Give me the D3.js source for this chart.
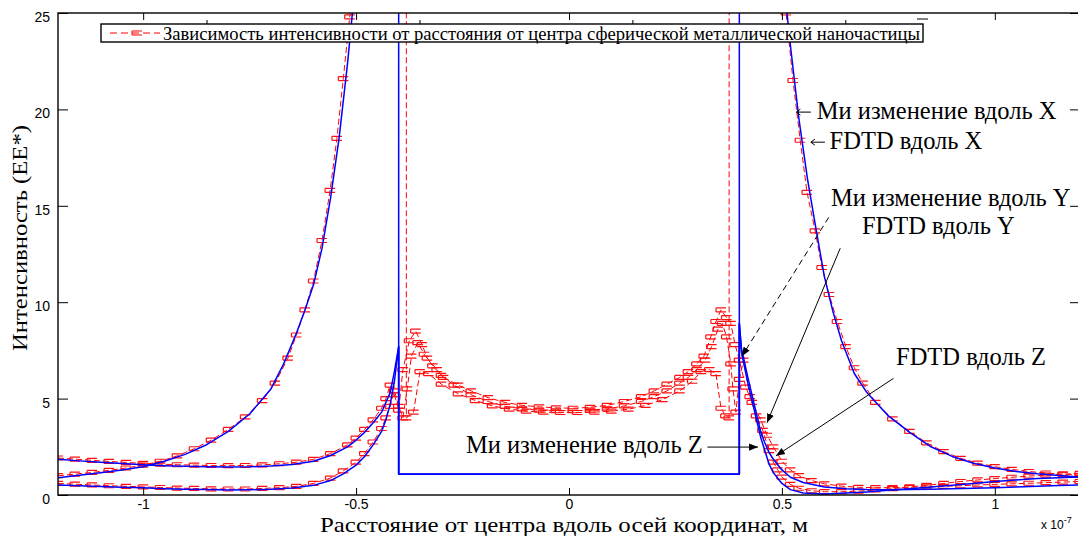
<!DOCTYPE html>
<html><head><meta charset="utf-8">
<script src="https://cdn.jsdelivr.net/npm/d3@7"></script>
<style>body{margin:0;background:#fff} svg{display:block}</style>
</head><body>
<svg id="chart" width="1078" height="536"></svg>
<script>
// ---------- data ----------
const xTicks = [-1, -0.5, 0, 0.5, 1];
const xTickLabels = ["-1", "-0.5", "0", "0.5", "1"];
const yTicks = [0, 5, 10, 15, 20, 25];
const yTickLabels = ["0", "5", "10", "15", "20", "25"];
const ghostTicks = [-0.85, -0.35, 0.15, 0.65];

// Mie theory (blue)
const mieX = [[-1.2,0.9],[-1.15,1.02],[-1.1,1.15],[-1.05,1.3],[-1.0,1.47],[-0.95,1.75],[-0.9,2.12],[-0.85,2.62],[-0.8,3.3],[-0.75,4.2],[-0.7,5.5],[-0.67,6.8],[-0.64,8.4],[-0.62,9.6],[-0.6,10.9],[-0.58,12.8],[-0.56,15.4],[-0.54,18.5],[-0.52,22.4],[-0.5,27],[-0.47,35],[-0.44,46],[-0.4,62],[-0.4,1.08],
  [0.4,1.08],[0.4,62],[0.44,46],[0.47,36],[0.5,27.5],[0.52,23.3],[0.54,19.5],[0.56,16.4],[0.58,13.8],[0.6,11.3],[0.62,9.5],[0.64,8.0],[0.67,6.3],[0.7,5.3],[0.75,4.1],[0.8,3.25],[0.85,2.5],[0.9,2.0],[0.95,1.65],[1.0,1.4],[1.05,1.22],[1.1,1.1],[1.15,1.01],[1.2,0.93]];
const mieY = [[-1.2,1.85],[-1.15,1.77],[-1.1,1.7],[-1.05,1.63],[-1.0,1.57],[-0.95,1.52],[-0.9,1.49],[-0.85,1.46],[-0.8,1.45],[-0.75,1.46],[-0.7,1.5],[-0.65,1.58],[-0.6,1.75],[-0.56,2.05],[-0.52,2.5],[-0.5,2.85],[-0.48,3.25],[-0.46,3.75],[-0.44,4.3],[-0.42,5.3],[-0.41,6.4],[-0.4,7.7],[-0.4,1.08],
  [0.4,1.08],[0.4,8.9],[0.405,7.6],[0.42,6.1],[0.435,4.7],[0.45,3.3],[0.46,2.7],[0.47,2.2],[0.48,1.85],[0.5,1.3],[0.52,0.92],[0.55,0.65],[0.6,0.42],[0.65,0.32],[0.7,0.28],[0.75,0.27],[0.8,0.28],[0.85,0.3],[0.9,0.32],[0.95,0.35],[1.0,0.38],[1.05,0.42],[1.1,0.46],[1.15,0.49],[1.2,0.52]];
const mieZ = [[-1.2,0.52],[-1.15,0.48],[-1.1,0.44],[-1.05,0.4],[-1.0,0.37],[-0.95,0.33],[-0.9,0.3],[-0.85,0.28],[-0.8,0.26],[-0.75,0.27],[-0.7,0.3],[-0.65,0.36],[-0.6,0.5],[-0.56,0.75],[-0.53,1.1],[-0.5,1.55],[-0.48,2.0],[-0.46,2.6],[-0.44,3.3],[-0.43,3.9],[-0.42,4.7],[-0.41,5.9],[-0.4,7.7],[-0.4,1.08],
  [0.4,1.08],[0.4,8.9],[0.405,7.4],[0.42,5.8],[0.435,4.4],[0.45,3.0],[0.46,2.3],[0.47,1.6],[0.48,1.15],[0.5,0.6],[0.52,0.28],[0.55,0.1],[0.6,0.05],[0.65,0.1],[0.7,0.16],[0.75,0.24],[0.8,0.33],[0.85,0.42],[0.9,0.5],[0.95,0.6],[1.0,0.7],[1.05,0.78],[1.1,0.85],[1.15,0.9],[1.2,0.93]];

// FDTD (red dashed with error-bar markers)
const fdtdX = [[-1.2,1.0],[-1.16,1.08],[-1.12,1.17],[-1.08,1.28],[-1.04,1.4],[-1.0,1.55],[-0.96,1.75],[-0.92,2.03],[-0.88,2.4],[-0.84,2.85],[-0.8,3.4],[-0.76,4.05],[-0.72,4.9],[-0.69,5.8],[-0.66,7.1],[-0.64,8.3],[-0.62,9.6],[-0.6,11.1],[-0.58,13.2],[-0.561,15.8],[-0.545,18.5],[-0.53,21.6],[-0.515,24.8],[-0.5,28],[-0.45,45],[-0.382,65],[-0.382,4.0],
  [-0.365,4.3],[-0.35,6.4],[-0.33,6.3],[-0.3,5.75],[-0.26,5.25],[-0.22,4.9],[-0.18,4.62],[-0.14,4.45],[-0.1,4.35],[-0.06,4.3],[-0.02,4.28],[0.02,4.28],[0.06,4.3],[0.1,4.35],[0.14,4.45],[0.18,4.65],[0.22,4.95],[0.26,5.4],[0.29,5.9],[0.31,6.4],[0.33,6.5],[0.345,6.3],[0.357,4.5],[0.368,4.1],[0.376,4.0],[0.376,65],
  [0.45,45],[0.495,28.5],[0.51,25.0],[0.526,21.5],[0.543,18.4],[0.559,15.7],[0.578,13.7],[0.594,11.8],[0.611,10.4],[0.63,9.0],[0.65,7.7],[0.67,6.6],[0.69,5.8],[0.72,4.8],[0.76,3.95],[0.8,3.3],[0.84,2.7],[0.88,2.25],[0.92,1.9],[0.96,1.65],[1.0,1.47],[1.04,1.33],[1.08,1.22],[1.12,1.14],[1.16,1.08],[1.2,1.02]];
const fdtdY = [[-1.2,1.92],[-1.16,1.86],[-1.12,1.8],[-1.08,1.74],[-1.04,1.69],[-1.0,1.64],[-0.96,1.6],[-0.92,1.57],[-0.88,1.55],[-0.84,1.53],[-0.8,1.52],[-0.76,1.53],[-0.72,1.56],[-0.68,1.62],[-0.64,1.7],[-0.6,1.85],[-0.56,2.15],[-0.52,2.6],[-0.5,2.95],[-0.48,3.4],[-0.46,3.9],[-0.44,4.5],[-0.43,5.0],[-0.42,5.7],[-0.41,5.2],[-0.4,4.4],[-0.39,6.5],[-0.375,8.0],
  [-0.36,8.5],[-0.345,7.8],[-0.333,7.1],[-0.31,6.5],[-0.295,6.1],[-0.26,5.7],[-0.23,5.4],[-0.19,5.05],[-0.15,4.8],[-0.11,4.65],[-0.07,4.57],[-0.03,4.52],[0.01,4.5],[0.05,4.55],[0.09,4.65],[0.13,4.85],[0.17,5.1],[0.2,5.4],[0.23,5.75],[0.26,6.1],[0.28,6.4],[0.3,6.8],[0.317,7.2],[0.333,8.2],[0.345,9.0],[0.357,9.6],[0.37,9.2],[0.38,8.9],[0.39,7.8],
  [0.4,7.0],[0.415,5.6],[0.43,4.8],[0.45,3.9],[0.465,3.1],[0.48,2.5],[0.5,1.75],[0.52,1.3],[0.54,1.0],[0.57,0.75],[0.6,0.58],[0.64,0.46],[0.68,0.4],[0.72,0.38],[0.76,0.38],[0.8,0.4],[0.84,0.42],[0.88,0.45],[0.92,0.48],[0.96,0.52],[1.0,0.55],[1.04,0.58],[1.08,0.61],[1.12,0.64],[1.16,0.67],[1.2,0.7]];
const fdtdZ = [[-1.2,0.6],[-1.16,0.56],[-1.12,0.52],[-1.08,0.48],[-1.04,0.45],[-1.0,0.42],[-0.96,0.39],[-0.92,0.36],[-0.88,0.34],[-0.84,0.32],[-0.8,0.31],[-0.76,0.31],[-0.72,0.34],[-0.68,0.38],[-0.64,0.45],[-0.6,0.6],[-0.56,0.88],[-0.53,1.25],[-0.5,1.7],[-0.48,2.15],[-0.46,2.75],[-0.44,3.45],[-0.43,4.0],[-0.42,4.6],[-0.41,5.4],[-0.4,4.6],[-0.39,4.0],[-0.38,5.5],[-0.37,7.2],
  [-0.355,7.9],[-0.34,7.3],[-0.32,6.7],[-0.3,6.2],[-0.27,5.7],[-0.23,5.2],[-0.19,4.85],[-0.15,4.6],[-0.11,4.47],[-0.07,4.4],[-0.03,4.37],[0.01,4.37],[0.05,4.4],[0.09,4.47],[0.13,4.62],[0.17,4.85],[0.2,5.1],[0.23,5.4],[0.26,5.8],[0.28,6.1],[0.3,6.5],[0.32,7.0],[0.335,7.7],[0.35,8.6],[0.36,8.9],[0.37,8.2],[0.38,6.8],[0.385,5.5],[0.392,4.3],
  [0.4,6.0],[0.41,7.0],[0.425,5.1],[0.44,4.1],[0.455,3.35],[0.47,2.3],[0.48,1.7],[0.49,1.3],[0.5,0.93],[0.52,0.55],[0.54,0.35],[0.57,0.22],[0.6,0.17],[0.64,0.17],[0.68,0.2],[0.72,0.26],[0.76,0.33],[0.8,0.42],[0.84,0.5],[0.88,0.6],[0.92,0.7],[0.96,0.78],[1.0,0.85],[1.04,0.92],[1.08,0.98],[1.12,1.03],[1.16,1.08],[1.2,1.12]];

const legendLabel = "Зависимость интенсивности от расстояния от центра сферической металлической наночастицы";
const xAxisTitle = "Расстояние от центра вдоль осей координат, м";
const yAxisTitle = "Интенсивность (EE*)";
// annotations: [text, x-data, y-data]
const annotations = [
  ["Ми изменение вдоль X", 0.582, 19.5],
  ["FDTD вдоль X", 0.612, 17.95],
  ["Ми изменение вдоль Y", 0.615, 15.0],
  ["FDTD вдоль Y", 0.688, 13.55],
  ["FDTD вдоль Z", 0.768, 6.75],
  ["Ми изменение вдоль Z", -0.242, 2.2]
];
// arrows: [x1,y1,x2,y2,dashed]
const arrows = [
  [0.61, 14.4, 0.406, 7.2, true],
  [0.637, 12.8, 0.465, 3.75, false],
  [0.325, 2.485, 0.444, 2.485, false],
  [0.762, 6.05, 0.486, 2.03, false]
];
const smallArrows = [[0.568, 19.86, 0.534, 19.86], [0.601, 18.3, 0.568, 18.3]];

// ---------- drawing ----------
const svg = d3.select("#chart");
const L = 58, R = 1080, T = 13, B = 495;
const x = d3.scaleLinear().domain([-1.2, 1.2]).range([L, R]);
const y = d3.scaleLinear().domain([0, 25]).range([B, T]);
const serif = "'Liberation Serif','Times New Roman',serif";
const sans = "'Liberation Sans',Arial,sans-serif";

svg.append("rect").attr("width", 1078).attr("height", 536).attr("fill", "#fff");

const defs = svg.append("defs");
defs.append("clipPath").attr("id", "plot").append("rect")
  .attr("x", L).attr("y", T).attr("width", R - L).attr("height", B - T);
defs.append("marker").attr("id", "ah").attr("viewBox", "0 0 10 10")
  .attr("refX", 10).attr("refY", 5).attr("markerWidth", 9).attr("markerHeight", 9)
  .attr("markerUnits", "userSpaceOnUse").attr("orient", "auto")
  .append("path").attr("d", "M0,1 L10,5 L0,9 Z").attr("fill", "#000");

const line = d3.line().x(d => x(d[0])).y(d => y(d[1]));
const plot = svg.append("g").attr("clip-path", "url(#plot)");
const markerPath = "M-5,-2H5M-5,-2V2M-5,2H5";

// FDTD series
[fdtdX, fdtdY, fdtdZ].forEach(s => {
  plot.append("path").datum(s).attr("d", line).attr("fill", "none")
    .attr("stroke", "#ff0000").attr("stroke-width", 1).attr("stroke-dasharray", "6,3");
  plot.append("g").selectAll("path").data(s.filter(d => d[1] <= 26)).join("path")
    .attr("transform", d => `translate(${x(d[0])},${y(d[1])})`)
    .attr("d", markerPath)
    .attr("fill", "none").attr("stroke", "#ff1010").attr("stroke-width", 1.2);
});
// Mie series
[mieX, mieY, mieZ].forEach(s => {
  plot.append("path").datum(s).attr("d", line).attr("fill", "none")
    .attr("stroke", "#0000ff").attr("stroke-width", 1.5).attr("stroke-linejoin", "round");
});

// axes
const fmtX = d => xTickLabels[xTicks.indexOf(d)];
const fmtY = d => yTickLabels[yTicks.indexOf(d)];
const gx = svg.append("g").attr("transform", `translate(0,${B})`)
  .call(d3.axisBottom(x).tickValues(xTicks).tickSize(-7).tickPadding(4).tickFormat(fmtX));
const gxt = svg.append("g").attr("transform", `translate(0,${T})`)
  .call(d3.axisTop(x).tickValues(xTicks).tickSize(-7).tickFormat(""));
const gy = svg.append("g").attr("transform", `translate(${L},0)`)
  .call(d3.axisLeft(y).tickValues(yTicks).tickSize(-10).tickPadding(8).tickFormat(fmtY));
const gyr = svg.append("g").attr("transform", `translate(${R},0)`)
  .call(d3.axisRight(y).tickValues(yTicks).tickSize(-10).tickFormat(""));
[gx, gxt, gy, gyr].forEach(g => {
  g.select(".domain").remove();
  g.selectAll("line").attr("stroke", "#000").attr("stroke-width", 1);
  g.selectAll("text").attr("font-family", sans).attr("font-size", 14).attr("fill", "#000");
});
gy.selectAll("text").attr("dy", "0.6em");
// stray ticks from overlaid axes
svg.append("g").selectAll("line").data(ghostTicks).join("line")
  .attr("x1", d => x(d)).attr("x2", d => x(d)).attr("y1", 20).attr("y2", 25)
  .attr("stroke", "#000").attr("stroke-width", 1);
svg.append("line").attr("x1", 917).attr("x2", 928).attr("y1", 19).attr("y2", 19).attr("stroke", "#000");

svg.append("rect").attr("x", L).attr("y", T).attr("width", R - L).attr("height", B - T)
  .attr("fill", "none").attr("stroke", "#000").attr("stroke-width", 1.4);

// exponent
const ex = svg.append("text").attr("x", 1041).attr("y", 529).attr("font-family", sans).attr("font-size", 12);
ex.append("tspan").text("x 10");
ex.append("tspan").attr("dy", -6).attr("font-size", 9).text("-7");

// axis titles
svg.append("text").attr("x", 564).attr("y", 532).attr("text-anchor", "middle")
  .attr("font-family", serif).attr("font-size", 22).attr("textLength", 488).attr("lengthAdjust", "spacingAndGlyphs")
  .text(xAxisTitle);
svg.append("text").attr("transform", "translate(27,238) rotate(-90)").attr("text-anchor", "middle")
  .attr("font-family", serif).attr("font-size", 22).attr("textLength", 226).attr("lengthAdjust", "spacingAndGlyphs")
  .text(yAxisTitle);

// legend
const lg = svg.append("g");
lg.append("rect").attr("x", 101).attr("y", 24).attr("width", 822).attr("height", 18)
  .attr("fill", "#fff").attr("stroke", "#000").attr("stroke-width", 1.4);
lg.append("line").attr("x1", 110).attr("x2", 160).attr("y1", 33).attr("y2", 33)
  .attr("stroke", "#ff0000").attr("stroke-dasharray", "7,4");
lg.append("path").attr("transform", "translate(137,33)").attr("d", markerPath)
  .attr("fill", "none").attr("stroke", "#ff0000");
lg.append("text").attr("x", 163).attr("y", 39.5).attr("font-family", serif).attr("font-size", 18)
  .attr("textLength", 757).attr("lengthAdjust", "spacingAndGlyphs").text(legendLabel);

// annotations
svg.append("g").selectAll("text").data(annotations).join("text")
  .attr("x", d => x(d[1])).attr("y", d => y(d[2]))
  .attr("font-family", serif).attr("font-size", 24.5).attr("fill", "#000").text(d => d[0]);
svg.append("g").selectAll("line").data(arrows).join("line")
  .attr("x1", d => x(d[0])).attr("y1", d => y(d[1])).attr("x2", d => x(d[2])).attr("y2", d => y(d[3]))
  .attr("stroke", "#000").attr("stroke-width", 1)
  .attr("stroke-dasharray", d => d[4] ? "6,4" : null).attr("marker-end", "url(#ah)");
svg.append("g").selectAll("path").data(smallArrows).join("path")
  .attr("d", d => {
    const x1 = x(d[0]), x2 = x(d[2]), yy = y(d[1]);
    return `M${x1},${yy}H${x2}M${x2 + 4},${yy - 3}L${x2},${yy}L${x2 + 4},${yy + 3}`;
  })
  .attr("fill", "none").attr("stroke", "#000").attr("stroke-width", 1);
</script>
</body></html>
